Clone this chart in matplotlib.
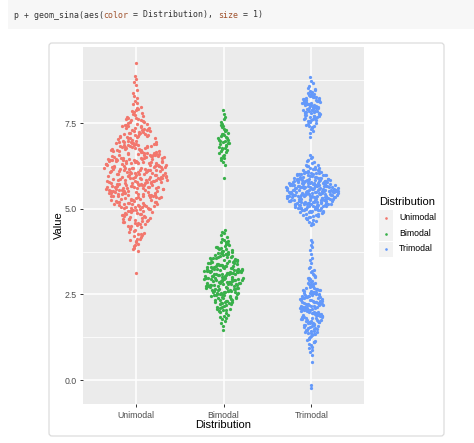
import numpy as np
import matplotlib
matplotlib.use("Agg")
import matplotlib.pyplot as plt
from matplotlib.patches import Rectangle, FancyBboxPatch
from matplotlib.lines import Line2D
from matplotlib.transforms import IdentityTransform

# ---------------- data ----------------
categories = ["Unimodal", "Bimodal", "Trimodal"]
colors = ["#F2776D", "#38B04A", "#6499FA"]
y_ticks = [0.0, 2.5, 5.0, 7.5]
y_tick_labels = ["0.0", "2.5", "5.0", "7.5"]
legend_title = "Distribution"
x_title = "Distribution"
y_title = "Value"
code_parts = [("p + geom_sina(aes(", "#333333"), ("color", "#A0522D"),
              (" = Distribution), ", "#333333"), ("size", "#A0522D"),
              (" = 1)", "#333333")]

unimodal = [
    3.11,
    3.84, 3.76, 3.95, 3.81, 3.98, 3.90,
    4.22, 4.05, 4.41, 4.13, 4.36, 4.08, 4.27, 4.49, 4.17, 4.02, 4.33, 4.46, 4.19, 4.30, 4.11, 4.44, 4.25, 4.38,
    4.71, 4.55, 4.92, 4.63, 4.87, 4.51, 4.78, 4.96, 4.60, 4.84, 4.69, 4.99, 4.57, 4.81, 4.74, 4.93, 4.66, 4.52, 4.88,
    4.77, 4.95, 4.61, 4.85, 4.70, 4.54, 4.97, 4.80, 4.64, 4.91, 4.73, 4.58, 4.86, 4.98, 4.67, 4.82, 4.94, 4.76, 4.90,
    5.12, 5.38, 5.03, 5.27, 5.45, 5.18, 5.06, 5.33, 5.49, 5.21, 5.09, 5.41, 5.15, 5.29, 5.02, 5.36, 5.24, 5.47, 5.11, 5.31,
    5.07, 5.43, 5.19, 5.35, 5.01, 5.26, 5.44, 5.14, 5.39, 5.05, 5.22, 5.48, 5.17, 5.32, 5.08, 5.42, 5.25, 5.13, 5.37, 5.04,
    5.46, 5.20, 5.30, 5.10, 5.40, 5.16, 5.34, 5.00, 5.28, 5.45, 5.23, 5.38, 5.12, 5.47, 5.19, 5.33, 5.06, 5.41, 5.26, 5.14,
    5.36, 5.43,
    5.63, 5.81, 5.52, 5.94, 5.70, 5.57, 5.88, 5.66, 5.99, 5.74, 5.55, 5.85, 5.61, 5.92, 5.78, 5.50, 5.69, 5.96, 5.83, 5.59,
    5.72, 5.90, 5.64, 5.53, 5.87, 5.76, 5.97, 5.68, 5.58, 5.82, 5.91, 5.62, 5.75, 5.54, 5.86, 5.98, 5.67, 5.79, 5.60, 5.93,
    5.71, 5.56, 5.84, 5.65, 5.95, 5.77, 5.51, 5.89, 5.73, 5.62, 5.80, 5.97, 5.58, 5.69, 5.86, 5.53, 5.92, 5.75, 5.64, 5.83,
    5.57, 5.90, 5.71, 5.99, 5.66, 5.81, 5.55, 5.94, 5.78, 5.61, 5.88, 5.74, 5.52, 5.96, 5.68, 5.85, 5.59, 5.91, 5.77, 5.63,
    6.14, 6.37, 6.02, 6.45, 6.21, 6.08, 6.31, 6.49, 6.17, 6.26, 6.05, 6.41, 6.12, 6.34, 6.23, 6.47, 6.01, 6.29, 6.18, 6.39,
    6.09, 6.43, 6.15, 6.33, 6.25, 6.04, 6.46, 6.20, 6.36, 6.11, 6.28, 6.42, 6.07, 6.32, 6.19, 6.48, 6.13, 6.38, 6.24, 6.03,
    6.44, 6.16, 6.30, 6.10, 6.40, 6.22, 6.35, 6.06, 6.27, 6.46, 6.00, 6.33, 6.18, 6.42, 6.12, 6.26, 6.38, 6.08, 6.21, 6.44,
    6.15, 6.31, 6.02, 6.47, 6.24, 6.36, 6.10, 6.29, 6.40, 6.05, 6.19, 6.43, 6.13, 6.34, 6.27, 6.07, 6.49, 6.22, 6.37, 6.16,
    6.58, 6.83, 6.51, 6.72, 6.95, 6.64, 6.88, 6.55, 6.77, 6.99, 6.61, 6.86, 6.69, 6.53, 6.92, 6.74, 6.57, 6.81, 6.66, 6.97,
    6.50, 6.79, 6.63, 6.90, 6.70, 6.56, 6.84, 6.93, 6.67, 6.52, 6.76, 6.89, 6.60, 6.82, 6.54, 6.96, 6.71, 6.65, 6.87, 6.59,
    6.78, 6.94, 6.62, 6.85, 6.68, 6.73, 6.98, 6.57, 6.80, 6.91, 6.64, 6.75, 6.53, 6.88, 6.70, 6.83, 6.61, 6.95, 6.66, 6.79,
    6.56, 6.86,
    7.12, 7.38, 7.05, 7.26, 7.47, 7.18, 7.33, 7.02, 7.41, 7.22, 7.09, 7.30, 7.15, 7.44, 7.24, 7.07, 7.36, 7.19, 7.49, 7.13,
    7.28, 7.03, 7.40, 7.21, 7.34, 7.10, 7.45, 7.17, 7.31, 7.06, 7.25, 7.42, 7.14, 7.37, 7.08, 7.29, 7.20, 7.46, 7.11, 7.35,
    7.56, 7.81, 7.62, 7.93, 7.52, 7.70, 7.87, 7.65, 7.58, 7.76, 7.98, 7.61, 7.84, 7.54, 7.73, 7.67, 7.90, 7.59, 7.79, 7.64,
    8.05, 8.22, 8.13, 8.38, 8.09, 8.30, 8.46,
    8.62, 8.71, 8.78, 8.87,
    9.24,
]

bimodal = [
    3.12, 3.03, 3.21, 3.08, 3.17, 3.01, 3.24, 3.14, 3.06, 3.19, 3.10, 3.22, 3.04, 3.15, 3.09, 3.23, 3.02, 3.18, 3.11, 3.07,
    3.20, 3.13, 3.05, 3.16, 3.00, 3.24, 3.12, 3.08, 3.19, 3.03, 3.14, 3.21, 3.06, 3.17, 3.10, 3.23, 3.15,
    3.31, 3.44, 3.27, 3.38, 3.49, 3.33, 3.26, 3.41, 3.36, 3.29, 3.47, 3.34, 3.40, 3.28, 3.45, 3.32, 3.37, 3.25, 3.43, 3.30,
    3.48, 3.35, 3.42, 3.27, 3.39, 3.46, 3.33, 3.29, 3.44, 3.36, 3.41,
    3.58, 3.71, 3.52, 3.66, 3.55, 3.74, 3.61, 3.50, 3.69, 3.57, 3.63, 3.72, 3.54, 3.67, 3.60, 3.73, 3.51, 3.64, 3.59, 3.70,
    3.56, 3.68,
    3.81, 3.93, 3.77, 3.88, 3.98, 3.84, 3.79, 3.91, 3.86, 3.96, 3.76, 3.89, 3.83,
    4.04, 4.17, 4.09, 4.22, 4.02, 4.13, 4.07,
    4.28, 4.33, 4.39,
    2.88, 2.97, 2.79, 2.93, 2.84, 2.99, 2.76, 2.91, 2.82, 2.95, 2.86, 2.78, 2.94, 2.81, 2.98, 2.89, 2.75, 2.92, 2.85, 2.96,
    2.80, 2.90, 2.77, 2.87, 2.99, 2.83, 2.94, 2.78, 2.91, 2.86, 2.97, 2.81, 2.89, 2.76, 2.93, 2.84, 2.96,
    2.63, 2.52, 2.71, 2.58, 2.67, 2.54, 2.74, 2.61, 2.50, 2.69, 2.56, 2.72, 2.60, 2.65, 2.53, 2.70, 2.59, 2.66, 2.51, 2.73,
    2.62, 2.55, 2.68, 2.57, 2.64, 2.74, 2.52, 2.69, 2.60, 2.66, 2.58,
    2.38, 2.27, 2.46, 2.33, 2.42, 2.29, 2.49, 2.36, 2.25, 2.44, 2.31, 2.40, 2.28, 2.47, 2.35, 2.43, 2.26, 2.39, 2.32, 2.48,
    2.34, 2.41,
    2.12, 2.04, 2.21, 2.08, 2.17, 2.01, 2.24, 2.14, 2.06, 2.19, 2.10, 2.23, 2.03,
    1.83, 1.96, 1.78, 1.91, 1.86, 1.99, 1.80,
    1.57, 1.66, 1.71,
    1.45,
    7.02, 7.15, 6.97, 7.09, 7.18, 7.05, 6.99, 7.12, 7.07, 7.19, 7.00,
    7.26, 7.38, 7.22, 7.33, 7.44, 7.29, 7.41,
    7.52, 7.61, 7.48, 7.67,
    7.76, 7.88,
    6.83, 6.74, 6.91, 6.78, 6.88, 6.71, 6.94, 6.80, 6.86, 6.76, 6.92,
    6.58, 6.49, 6.66, 6.53, 6.62, 6.47, 6.69,
    6.28, 6.36, 6.42,
    5.91,
]

trimodal = [
    8.03, 8.12, 7.97, 8.08, 8.14, 8.00, 8.06, 8.11, 7.96, 8.04, 8.13, 8.01, 8.09, 7.98, 8.07, 8.15, 8.02, 8.10, 7.99, 8.05,
    8.22, 8.31, 8.17, 8.27, 8.34, 8.20, 8.25, 8.33, 8.18, 8.29, 8.23, 8.16, 8.30, 8.21, 8.26,
    8.38, 8.47, 8.42, 8.53, 8.36, 8.45, 8.50, 8.40,
    8.58, 8.66, 8.73,
    8.84,
    7.83, 7.91, 7.77, 7.88, 7.80, 7.94, 7.85, 7.76, 7.90, 7.82, 7.93, 7.79, 7.87, 7.84, 7.92, 7.78, 7.89, 7.81, 7.86, 7.94,
    7.63, 7.71, 7.57, 7.68, 7.60, 7.74, 7.65, 7.56, 7.70, 7.62, 7.73, 7.59, 7.67, 7.64, 7.72,
    7.42, 7.51, 7.37, 7.47, 7.40, 7.54, 7.45, 7.38,
    7.21, 7.28, 7.33,
    7.09,
    5.58, 5.63, 5.51, 5.69, 5.55, 5.66, 5.52, 5.61, 5.68, 5.54, 5.64, 5.57, 5.50, 5.67, 5.60, 5.53, 5.65, 5.59, 5.62, 5.56,
    5.69, 5.52, 5.64, 5.58, 5.61, 5.55, 5.67, 5.50, 5.63, 5.57, 5.66, 5.54, 5.60, 5.68, 5.53, 5.62, 5.56, 5.65, 5.59, 5.51,
    5.67, 5.55, 5.61, 5.64, 5.52, 5.58, 5.69, 5.54, 5.63, 5.60, 5.56, 5.66, 5.53, 5.62,
    5.78, 5.83, 5.71, 5.88, 5.75, 5.86, 5.73, 5.80, 5.89, 5.76, 5.84, 5.72, 5.79, 5.87, 5.74, 5.81, 5.70, 5.85, 5.77, 5.82,
    5.88, 5.73, 5.80, 5.75, 5.86, 5.71, 5.83, 5.78, 5.84, 5.76, 5.72, 5.87, 5.79, 5.74, 5.81, 5.89, 5.77, 5.85, 5.70, 5.82,
    5.80, 5.75,
    5.97, 6.04, 5.92, 6.08, 5.95, 6.01, 5.90, 6.06, 5.99, 5.93, 6.03, 6.09, 5.96, 6.00, 5.91, 6.07, 5.98, 6.02, 5.94, 6.05,
    5.97, 6.01, 5.93, 6.08, 5.99, 6.04,
    6.14, 6.22, 6.11, 6.27, 6.17, 6.25, 6.13, 6.20, 6.29, 6.16, 6.24, 6.18,
    6.33, 6.41, 6.36, 6.47, 6.39,
    6.52, 6.57,
    5.42, 5.37, 5.49, 5.31, 5.45, 5.34, 5.48, 5.39, 5.32, 5.46, 5.36, 5.43, 5.30, 5.40, 5.47, 5.33, 5.44, 5.38, 5.41, 5.35,
    5.49, 5.31, 5.42, 5.36, 5.45, 5.39, 5.48, 5.33, 5.40, 5.37, 5.44, 5.32, 5.46, 5.38, 5.41, 5.34, 5.47, 5.30, 5.43, 5.35,
    5.48, 5.39, 5.31, 5.45, 5.36, 5.42, 5.33, 5.49, 5.37, 5.44, 5.34, 5.40, 5.46, 5.38,
    5.22, 5.17, 5.28, 5.11, 5.25, 5.14, 5.29, 5.19, 5.12, 5.26, 5.16, 5.23, 5.10, 5.20, 5.27, 5.13, 5.24, 5.18, 5.21, 5.15,
    5.28, 5.12, 5.22, 5.17, 5.25, 5.11, 5.29, 5.14, 5.20, 5.16, 5.26, 5.13, 5.23, 5.19, 5.27, 5.10, 5.24, 5.15, 5.21, 5.18,
    5.22, 5.26,
    5.03, 4.96, 5.08, 4.91, 5.05, 4.99, 5.09, 4.93, 5.01, 4.97, 5.06, 4.90, 5.04, 4.95, 5.07, 4.92, 5.02, 4.98, 5.00, 4.94,
    5.08, 4.97, 5.03, 4.91, 5.05, 4.99,
    4.86, 4.78, 4.89, 4.73, 4.83, 4.75, 4.88, 4.80, 4.71, 4.84, 4.76, 4.82,
    4.67, 4.61, 4.64, 4.58, 4.69,
    4.55, 4.53,
    2.18, 2.29, 2.12, 2.24, 2.33, 2.15, 2.27, 2.10, 2.21, 2.31, 2.14, 2.26, 2.19, 2.34, 2.11, 2.23, 2.30, 2.16, 2.28, 2.13,
    2.22, 2.32, 2.17, 2.25, 2.20, 2.34, 2.12, 2.27, 2.19,
    2.43, 2.51, 2.38, 2.57, 2.46, 2.36, 2.54, 2.41, 2.49, 2.59, 2.39, 2.52, 2.44, 2.37, 2.56, 2.47, 2.40, 2.53, 2.45, 2.58,
    2.42, 2.50, 2.48, 2.55,
    2.67, 2.78, 2.62, 2.73, 2.84, 2.65, 2.76, 2.61, 2.70, 2.81, 2.64, 2.75, 2.68, 2.83, 2.72, 2.63, 2.79,
    2.91, 3.02, 2.87, 2.97, 3.08, 2.94, 3.05, 2.89, 2.99, 3.06,
    3.14, 3.26, 3.19, 3.31, 3.22,
    3.41, 3.49, 3.57,
    3.68, 3.79, 3.88, 3.95, 4.02, 4.10,
    2.02, 1.91, 2.08, 1.87, 1.97, 2.05, 1.89, 1.99, 2.09, 1.93, 2.03, 1.86, 1.95, 2.06, 1.90, 2.00, 1.88, 1.98, 2.07, 1.92,
    2.04, 1.85, 1.96, 2.01, 1.94, 2.08, 1.89, 1.99, 2.03,
    1.77, 1.64, 1.82, 1.69, 1.73, 1.61, 1.80, 1.67, 1.75, 1.63, 1.84, 1.71, 1.66, 1.78, 1.60, 1.74, 1.68, 1.81, 1.62, 1.76,
    1.70, 1.83, 1.65, 1.72,
    1.48, 1.37, 1.56, 1.42, 1.52, 1.39, 1.58, 1.45, 1.35, 1.54, 1.41, 1.50, 1.38, 1.57, 1.44, 1.47, 1.53,
    1.27, 1.15, 1.32, 1.21, 1.12, 1.29, 1.18, 1.34, 1.24, 1.10,
    0.97, 1.05, 0.89, 1.01, 0.93,
    0.72, 0.81,
    0.52, -0.15, -0.23,
]

group_values = [unimodal, bimodal, trimodal]

# ---------------- layout / style ----------------
W, H = 474, 443
FONT = ["Liberation Sans", "DejaVu Sans"]
plt.rcParams["font.family"] = FONT

fig = plt.figure(figsize=(W / 100, H / 100), dpi=100)
fig.patch.set_facecolor("white")


def fx(px):
    return px / W


def fy(py):
    return 1 - py / H


# code cell background
fig.add_artist(Rectangle((fx(8), fy(29)), 1 - fx(8), 29 / H, transform=fig.transFigure,
                         facecolor="#F7F7F7", edgecolor="none", zorder=0))
# code text (monospace, segments placed by char advance)
code_fs = 5.95
adv = 0.602 * code_fs * 100 / 72  # px per char
cx = 14
for txt, col in code_parts:
    fig.text(fx(cx), fy(15), txt, fontsize=code_fs, family="DejaVu Sans Mono",
             color=col, ha="left", va="center")
    cx += adv * len(txt)

# output card
fig.add_artist(FancyBboxPatch((49, H - 436), 395, 393, boxstyle="round,pad=0,rounding_size=3",
                              transform=IdentityTransform(), facecolor="white",
                              edgecolor="#DCDCDC", linewidth=0.9, zorder=0))

# plot panel
ax = fig.add_axes([fx(83), fy(404), (364 - 83) / W, (404 - 47) / H])
ax.set_facecolor("#EBEBEB")
for s in ax.spines.values():
    s.set_visible(False)
ax.set_xlim(0.4, 3.6)
ax.set_ylim(-0.70, 9.72)

step = y_ticks[1] - y_ticks[0]
minor = [t + step / 2 for t in y_ticks]
for t in minor:
    ax.axhline(t, color="white", lw=0.55, zorder=1)
for t in y_ticks:
    ax.axhline(t, color="white", lw=1.1, zorder=1)
xpos = np.arange(1, len(categories) + 1)
for xp in xpos:
    ax.axvline(xp, color="white", lw=1.1, zorder=1)


def sina_offsets(vals, half_width, bw=0.22):
    v = np.asarray(vals, float)
    d = np.exp(-0.5 * ((v[:, None] - v[None, :]) / bw) ** 2).sum(axis=1)
    d = d / d.max()
    n = len(v)
    u = (np.arange(1, n + 1) * 0.6180339887498949) % 1.0 * 2 - 1
    return u * d * half_width


half_widths = [0.36, 0.23, 0.31]
for xp, vals, col, hw in zip(xpos, group_values, colors, half_widths):
    off = sina_offsets(vals, hw)
    ax.scatter(xp + off, vals, s=5.5, c=col, linewidths=0, zorder=3)

ax.set_xticks(xpos)
ax.set_xticklabels(categories)
ax.set_yticks(y_ticks)
ax.set_yticklabels(y_tick_labels)
ax.tick_params(axis="both", length=2.5, width=0.7, color="#333333",
               labelsize=6.3, labelcolor="#4D4D4D", pad=2.2)

fig.text(fx(59), fy(225.5), y_title, rotation=90, ha="center", va="center",
         fontsize=8, color="black")
fig.text(fx(223.5), fy(424.5), x_title, ha="center", va="center", fontsize=8, color="black")

# legend (ggplot style)
fig.text(fx(379), fy(202), legend_title, ha="left", va="center", fontsize=8, color="black")
for i, (name, col) in enumerate(zip(categories, colors)):
    yc = 218 + i * 15.5
    fig.add_artist(Rectangle((fx(379), fy(yc + 7.5)), 14 / W, 15 / H, transform=fig.transFigure,
                             facecolor="#F2F2F2", edgecolor="none"))
    fig.add_artist(Line2D([fx(386)], [fy(yc)], transform=fig.transFigure, marker="o",
                          markersize=1.9, color=col, markeredgewidth=0, linestyle="none"))
    fig.text(fx(399), fy(yc), name, ha="left", va="center", fontsize=6.3, color="black")

fig.savefig("out.png", dpi=100, facecolor="white")
